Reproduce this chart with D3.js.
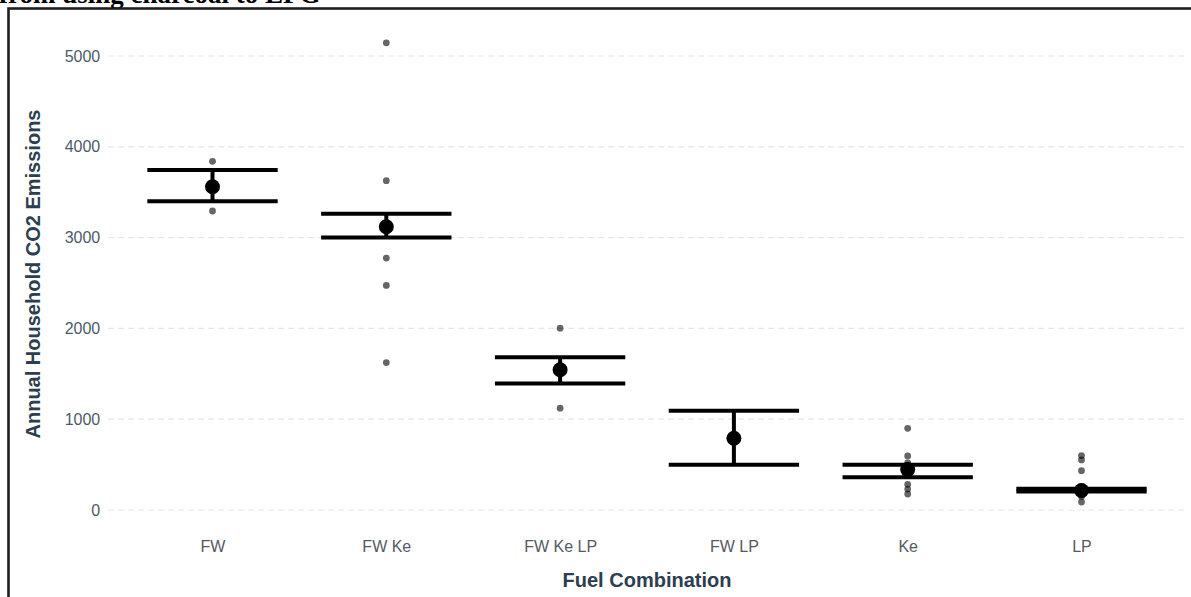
<!DOCTYPE html>
<html>
<head>
<meta charset="utf-8">
<script src="https://cdn.jsdelivr.net/npm/d3@7"></script>
<style>
  body { margin: 0; background: #fff; overflow: hidden; }
  svg { display: block; }
</style>
</head>
<body>
<div id="chart"></div>
<script>
// categories and summary values (mean +- error)
const categories = ["FW", "FW Ke", "FW Ke LP", "FW LP", "Ke", "LP"];
const means = [3560, 3120, 1545, 790, 445, 215];
const lower = [3400, 3000, 1393, 499, 360, 205];
const upper = [3745, 3262, 1683, 1092, 499, 235];

// raw household values, one list per category
const rawFW = [3840, 3293];
const rawFWKe = [5145, 3627, 2775, 2473, 1624];
const rawFWKeLP = [2003, 1121];
const rawFWLP = [];
const rawKe = [900, 595, 520, 450, 400, 283, 231, 176];
const rawLP = [599, 551, 433, 260, 220, 190, 150, 88];
const raws = [rawFW, rawFWKe, rawFWKeLP, rawFWLP, rawKe, rawLP];

const yTicks = [0, 1000, 2000, 3000, 4000, 5000];

const width = 1191, height = 597;

const svg = d3.select("#chart").append("svg")
  .attr("width", width)
  .attr("height", height);

// title cut off at the top
svg.append("text")
  .attr("x", -1)
  .attr("y", 3)
  .attr("font-family", "Liberation Serif, Times New Roman, serif")
  .attr("font-weight", "bold")
  .attr("font-size", 27)
  .attr("fill", "#000")
  .text("from using charcoal to LPG");

// frame
svg.append("rect")
  .attr("x", 8.5).attr("y", 8.5)
  .attr("width", 1300).attr("height", 700)
  .attr("fill", "none")
  .attr("stroke", "#1e1e1e")
  .attr("stroke-width", 2.6);

// scales
const x = d3.scalePoint()
  .domain(categories)
  .range([212.5, 1081.5]);

const y = d3.scaleLinear()
  .domain([0, 5000])
  .range([510, 56]);

const step = x.step();
const panelLeft = x(categories[0]) - 0.6 * step;
const panelRight = x(categories[categories.length - 1]) + 0.6 * step;

// grid
svg.append("g")
  .selectAll("line")
  .data(yTicks)
  .join("line")
  .attr("x1", panelLeft).attr("x2", panelRight)
  .attr("y1", d => y(d)).attr("y2", d => y(d))
  .attr("stroke", "#e6e6e6")
  .attr("stroke-width", 1.2)
  .attr("stroke-dasharray", "6,4");

// axes (no lines, only labels)
const yAxis = svg.append("g")
  .attr("transform", `translate(${panelLeft - 8}, 0)`)
  .call(d3.axisLeft(y).tickValues(yTicks).tickSize(0).tickPadding(0).tickFormat(d3.format("d")));
yAxis.select(".domain").remove();
yAxis.selectAll("text")
  .attr("font-family", "Liberation Sans, Arial, sans-serif")
  .attr("font-size", 16)
  .attr("fill", "#4d5a6a");

const xAxis = svg.append("g")
  .attr("transform", `translate(0, 541)`)
  .call(d3.axisBottom(x).tickSize(0).tickPadding(0));
xAxis.select(".domain").remove();
xAxis.selectAll("text")
  .attr("font-family", "Liberation Sans, Arial, sans-serif")
  .attr("font-size", 16)
  .attr("fill", "#555a62");

// axis titles
svg.append("text")
  .attr("x", (panelLeft + panelRight) / 2)
  .attr("y", 587)
  .attr("text-anchor", "middle")
  .attr("font-family", "Liberation Sans, Arial, sans-serif")
  .attr("font-weight", "bold")
  .attr("font-size", 20)
  .attr("fill", "#2c3e50")
  .text("Fuel Combination");

svg.append("text")
  .attr("transform", `translate(40, 274) rotate(-90)`)
  .attr("text-anchor", "middle")
  .attr("font-family", "Liberation Sans, Arial, sans-serif")
  .attr("font-weight", "bold")
  .attr("font-size", 20)
  .attr("fill", "#2c3e50")
  .text("Annual Household CO2 Emissions");

// raw points
const rawData = categories.flatMap((c, i) => raws[i].map(v => ({ c, v })));
svg.append("g")
  .selectAll("circle")
  .data(rawData)
  .join("circle")
  .attr("cx", d => x(d.c))
  .attr("cy", d => y(d.v))
  .attr("r", 3.4)
  .attr("fill", "#000")
  .attr("fill-opacity", 0.6);

// error bars
const summary = categories.map((c, i) => ({ c, m: means[i], lo: lower[i], hi: upper[i] }));
const half = 0.375 * step;
const eb = svg.append("g")
  .attr("stroke", "#000")
  .attr("stroke-width", 4);

eb.selectAll(".top")
  .data(summary)
  .join("line")
  .attr("x1", d => x(d.c) - half).attr("x2", d => x(d.c) + half)
  .attr("y1", d => y(d.hi)).attr("y2", d => y(d.hi));

eb.selectAll(".bot")
  .data(summary)
  .join("line")
  .attr("x1", d => x(d.c) - half).attr("x2", d => x(d.c) + half)
  .attr("y1", d => y(d.lo)).attr("y2", d => y(d.lo));

eb.selectAll(".vert")
  .data(summary)
  .join("line")
  .attr("x1", d => x(d.c)).attr("x2", d => x(d.c))
  .attr("y1", d => y(d.hi)).attr("y2", d => y(d.lo));

// mean points
svg.append("g")
  .selectAll("circle")
  .data(summary)
  .join("circle")
  .attr("cx", d => x(d.c))
  .attr("cy", d => y(d.m))
  .attr("r", 7.5)
  .attr("fill", "#000");
</script>
</body>
</html>
